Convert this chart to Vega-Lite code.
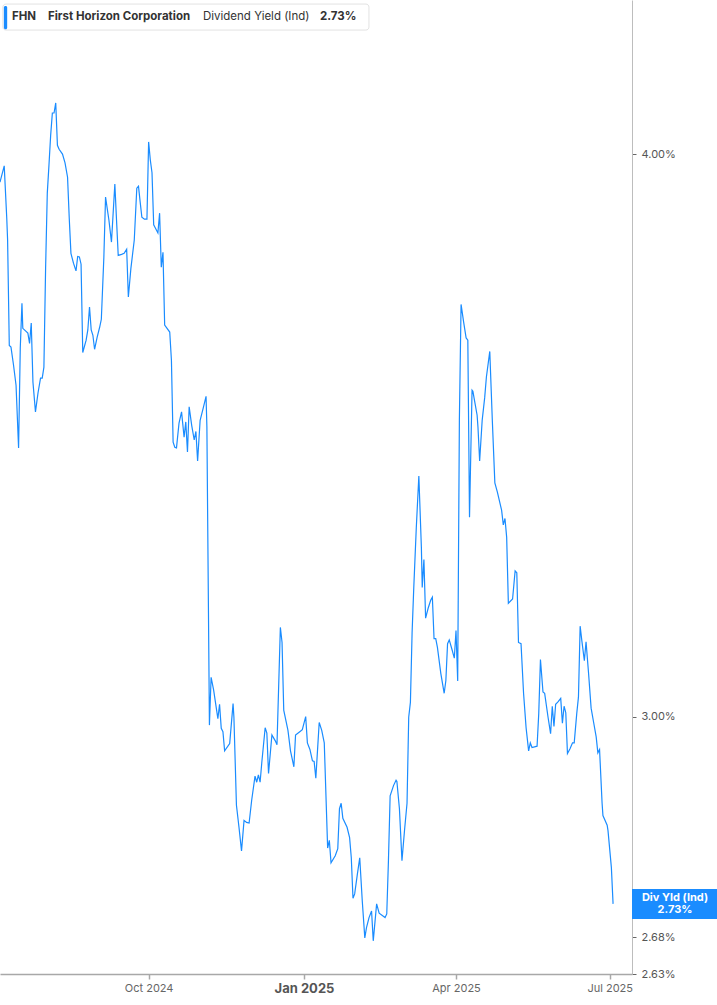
{
  "$schema": "https://vega.github.io/schema/vega-lite/v6.json",
  "width": 632,
  "height": 974,
  "autosize": "none",
  "padding": {"left": 0, "top": 0, "right": 85, "bottom": 31},
  "background": "white",
  "config": {"view": {"stroke": null}, "font": "Inter", "axis": {"grid": false}},
  "data": {
    "values": [
      {"date": "2024-07-05T00:00", "yield": 3.943},
      {"date": "2024-07-07T12:00", "yield": 3.976},
      {"date": "2024-07-09T00:00", "yield": 3.871},
      {"date": "2024-07-09T12:00", "yield": 3.828},
      {"date": "2024-07-10T12:00", "yield": 3.627},
      {"date": "2024-07-11T12:00", "yield": 3.624},
      {"date": "2024-07-13T00:00", "yield": 3.591},
      {"date": "2024-07-14T12:00", "yield": 3.554},
      {"date": "2024-07-16T00:00", "yield": 3.442},
      {"date": "2024-07-17T00:00", "yield": 3.622},
      {"date": "2024-07-18T00:00", "yield": 3.706},
      {"date": "2024-07-18T12:00", "yield": 3.659},
      {"date": "2024-07-21T12:00", "yield": 3.650},
      {"date": "2024-07-22T12:00", "yield": 3.631},
      {"date": "2024-07-23T12:00", "yield": 3.669},
      {"date": "2024-07-24T12:00", "yield": 3.560},
      {"date": "2024-07-26T00:00", "yield": 3.506},
      {"date": "2024-07-27T12:00", "yield": 3.540},
      {"date": "2024-07-29T00:00", "yield": 3.567},
      {"date": "2024-07-30T00:00", "yield": 3.567},
      {"date": "2024-07-31T00:00", "yield": 3.587},
      {"date": "2024-08-01T00:00", "yield": 3.773},
      {"date": "2024-08-02T00:00", "yield": 3.921},
      {"date": "2024-08-03T00:00", "yield": 3.978},
      {"date": "2024-08-04T00:00", "yield": 4.039},
      {"date": "2024-08-05T00:00", "yield": 4.085},
      {"date": "2024-08-06T00:00", "yield": 4.085},
      {"date": "2024-08-07T00:00", "yield": 4.106},
      {"date": "2024-08-08T00:00", "yield": 4.018},
      {"date": "2024-08-09T00:00", "yield": 4.010},
      {"date": "2024-08-11T00:00", "yield": 4.000},
      {"date": "2024-08-12T12:00", "yield": 3.982},
      {"date": "2024-08-14T00:00", "yield": 3.953},
      {"date": "2024-08-15T00:00", "yield": 3.871},
      {"date": "2024-08-16T00:00", "yield": 3.802},
      {"date": "2024-08-17T12:00", "yield": 3.783},
      {"date": "2024-08-19T00:00", "yield": 3.768},
      {"date": "2024-08-20T00:00", "yield": 3.796},
      {"date": "2024-08-21T00:00", "yield": 3.795},
      {"date": "2024-08-22T00:00", "yield": 3.781},
      {"date": "2024-08-23T00:00", "yield": 3.614},
      {"date": "2024-08-25T00:00", "yield": 3.637},
      {"date": "2024-08-26T00:00", "yield": 3.656},
      {"date": "2024-08-27T00:00", "yield": 3.699},
      {"date": "2024-08-28T00:00", "yield": 3.656},
      {"date": "2024-08-29T00:00", "yield": 3.646},
      {"date": "2024-08-30T00:00", "yield": 3.620},
      {"date": "2024-08-31T12:00", "yield": 3.642},
      {"date": "2024-09-02T00:00", "yield": 3.661},
      {"date": "2024-09-03T00:00", "yield": 3.676},
      {"date": "2024-09-04T12:00", "yield": 3.795},
      {"date": "2024-09-05T12:00", "yield": 3.913},
      {"date": "2024-09-07T12:00", "yield": 3.867},
      {"date": "2024-09-09T00:00", "yield": 3.824},
      {"date": "2024-09-11T00:00", "yield": 3.939},
      {"date": "2024-09-12T00:00", "yield": 3.867},
      {"date": "2024-09-13T00:00", "yield": 3.798},
      {"date": "2024-09-15T00:00", "yield": 3.800},
      {"date": "2024-09-16T12:00", "yield": 3.802},
      {"date": "2024-09-18T00:00", "yield": 3.810},
      {"date": "2024-09-19T00:00", "yield": 3.718},
      {"date": "2024-09-20T12:00", "yield": 3.773},
      {"date": "2024-09-22T12:00", "yield": 3.828},
      {"date": "2024-09-24T00:00", "yield": 3.931},
      {"date": "2024-09-25T00:00", "yield": 3.935},
      {"date": "2024-09-26T00:00", "yield": 3.903},
      {"date": "2024-09-27T00:00", "yield": 3.873},
      {"date": "2024-09-28T12:00", "yield": 3.869},
      {"date": "2024-09-30T00:00", "yield": 3.869},
      {"date": "2024-10-01T00:00", "yield": 4.025},
      {"date": "2024-10-02T00:00", "yield": 3.988},
      {"date": "2024-10-03T00:00", "yield": 3.962},
      {"date": "2024-10-04T00:00", "yield": 3.858},
      {"date": "2024-10-06T12:00", "yield": 3.842},
      {"date": "2024-10-07T12:00", "yield": 3.881},
      {"date": "2024-10-08T12:00", "yield": 3.775},
      {"date": "2024-10-09T12:00", "yield": 3.804},
      {"date": "2024-10-10T12:00", "yield": 3.665},
      {"date": "2024-10-13T12:00", "yield": 3.652},
      {"date": "2024-10-14T12:00", "yield": 3.600},
      {"date": "2024-10-15T12:00", "yield": 3.452},
      {"date": "2024-10-16T12:00", "yield": 3.443},
      {"date": "2024-10-17T12:00", "yield": 3.442},
      {"date": "2024-10-19T00:00", "yield": 3.486},
      {"date": "2024-10-20T12:00", "yield": 3.506},
      {"date": "2024-10-22T00:00", "yield": 3.461},
      {"date": "2024-10-23T00:00", "yield": 3.488},
      {"date": "2024-10-24T00:00", "yield": 3.435},
      {"date": "2024-10-25T00:00", "yield": 3.515},
      {"date": "2024-10-26T12:00", "yield": 3.482},
      {"date": "2024-10-28T00:00", "yield": 3.456},
      {"date": "2024-10-29T00:00", "yield": 3.471},
      {"date": "2024-10-30T00:00", "yield": 3.419},
      {"date": "2024-10-31T12:00", "yield": 3.491},
      {"date": "2024-11-02T12:00", "yield": 3.515},
      {"date": "2024-11-04T00:00", "yield": 3.534},
      {"date": "2024-11-04T12:00", "yield": 3.479},
      {"date": "2024-11-06T00:00", "yield": 2.987},
      {"date": "2024-11-07T00:00", "yield": 3.061},
      {"date": "2024-11-08T12:00", "yield": 3.041},
      {"date": "2024-11-11T00:00", "yield": 2.997},
      {"date": "2024-11-12T00:00", "yield": 3.019},
      {"date": "2024-11-13T00:00", "yield": 2.982},
      {"date": "2024-11-14T00:00", "yield": 2.977},
      {"date": "2024-11-15T00:00", "yield": 2.948},
      {"date": "2024-11-18T00:00", "yield": 2.959},
      {"date": "2024-11-20T00:00", "yield": 3.020},
      {"date": "2024-11-20T12:00", "yield": 2.999},
      {"date": "2024-11-22T00:00", "yield": 2.867},
      {"date": "2024-11-23T12:00", "yield": 2.835},
      {"date": "2024-11-25T00:00", "yield": 2.801},
      {"date": "2024-11-26T12:00", "yield": 2.845},
      {"date": "2024-11-28T00:00", "yield": 2.842},
      {"date": "2024-11-29T12:00", "yield": 2.841},
      {"date": "2024-12-01T00:00", "yield": 2.874},
      {"date": "2024-12-03T00:00", "yield": 2.910},
      {"date": "2024-12-04T00:00", "yield": 2.901},
      {"date": "2024-12-05T00:00", "yield": 2.912},
      {"date": "2024-12-06T00:00", "yield": 2.901},
      {"date": "2024-12-07T00:00", "yield": 2.930},
      {"date": "2024-12-09T00:00", "yield": 2.983},
      {"date": "2024-12-10T00:00", "yield": 2.975},
      {"date": "2024-12-11T00:00", "yield": 2.914},
      {"date": "2024-12-13T00:00", "yield": 2.972},
      {"date": "2024-12-15T00:00", "yield": 2.963},
      {"date": "2024-12-16T00:00", "yield": 2.957},
      {"date": "2024-12-18T00:00", "yield": 3.140},
      {"date": "2024-12-19T00:00", "yield": 3.116},
      {"date": "2024-12-20T00:00", "yield": 3.010},
      {"date": "2024-12-22T12:00", "yield": 2.979},
      {"date": "2024-12-24T00:00", "yield": 2.948},
      {"date": "2024-12-26T00:00", "yield": 2.924},
      {"date": "2024-12-27T00:00", "yield": 2.972},
      {"date": "2024-12-29T12:00", "yield": 2.977},
      {"date": "2024-12-31T00:00", "yield": 2.980},
      {"date": "2025-01-02T00:00", "yield": 3.000},
      {"date": "2025-01-03T00:00", "yield": 2.960},
      {"date": "2025-01-04T12:00", "yield": 2.950},
      {"date": "2025-01-06T00:00", "yield": 2.933},
      {"date": "2025-01-07T00:00", "yield": 2.932},
      {"date": "2025-01-08T00:00", "yield": 2.907},
      {"date": "2025-01-10T00:00", "yield": 2.991},
      {"date": "2025-01-11T12:00", "yield": 2.979},
      {"date": "2025-01-13T00:00", "yield": 2.960},
      {"date": "2025-01-15T00:00", "yield": 2.805},
      {"date": "2025-01-16T00:00", "yield": 2.816},
      {"date": "2025-01-17T00:00", "yield": 2.784},
      {"date": "2025-01-19T12:00", "yield": 2.794},
      {"date": "2025-01-21T00:00", "yield": 2.804},
      {"date": "2025-01-22T00:00", "yield": 2.862},
      {"date": "2025-01-23T00:00", "yield": 2.870},
      {"date": "2025-01-24T00:00", "yield": 2.848},
      {"date": "2025-01-26T12:00", "yield": 2.835},
      {"date": "2025-01-28T00:00", "yield": 2.820},
      {"date": "2025-01-29T00:00", "yield": 2.791},
      {"date": "2025-01-30T00:00", "yield": 2.734},
      {"date": "2025-01-31T00:00", "yield": 2.740},
      {"date": "2025-02-01T12:00", "yield": 2.766},
      {"date": "2025-02-03T00:00", "yield": 2.791},
      {"date": "2025-02-04T12:00", "yield": 2.730},
      {"date": "2025-02-06T00:00", "yield": 2.679},
      {"date": "2025-02-07T00:00", "yield": 2.693},
      {"date": "2025-02-08T12:00", "yield": 2.707},
      {"date": "2025-02-10T00:00", "yield": 2.716},
      {"date": "2025-02-11T00:00", "yield": 2.675},
      {"date": "2025-02-13T00:00", "yield": 2.726},
      {"date": "2025-02-14T12:00", "yield": 2.713},
      {"date": "2025-02-18T00:00", "yield": 2.707},
      {"date": "2025-02-19T00:00", "yield": 2.712},
      {"date": "2025-02-20T00:00", "yield": 2.787},
      {"date": "2025-02-21T00:00", "yield": 2.881},
      {"date": "2025-02-23T00:00", "yield": 2.896},
      {"date": "2025-02-24T12:00", "yield": 2.904},
      {"date": "2025-02-25T00:00", "yield": 2.902},
      {"date": "2025-02-26T12:00", "yield": 2.862},
      {"date": "2025-02-28T00:00", "yield": 2.787},
      {"date": "2025-03-01T12:00", "yield": 2.830},
      {"date": "2025-03-03T00:00", "yield": 2.870},
      {"date": "2025-03-04T00:00", "yield": 2.999},
      {"date": "2025-03-05T00:00", "yield": 3.022},
      {"date": "2025-03-06T00:00", "yield": 3.131},
      {"date": "2025-03-07T00:00", "yield": 3.205},
      {"date": "2025-03-08T12:00", "yield": 3.305},
      {"date": "2025-03-10T00:00", "yield": 3.393},
      {"date": "2025-03-11T12:00", "yield": 3.271},
      {"date": "2025-03-12T00:00", "yield": 3.205},
      {"date": "2025-03-13T00:00", "yield": 3.251},
      {"date": "2025-03-14T00:00", "yield": 3.155},
      {"date": "2025-03-15T12:00", "yield": 3.171},
      {"date": "2025-03-17T00:00", "yield": 3.184},
      {"date": "2025-03-18T00:00", "yield": 3.189},
      {"date": "2025-03-19T00:00", "yield": 3.122},
      {"date": "2025-03-20T00:00", "yield": 3.122},
      {"date": "2025-03-21T00:00", "yield": 3.108},
      {"date": "2025-03-23T00:00", "yield": 3.067},
      {"date": "2025-03-25T00:00", "yield": 3.036},
      {"date": "2025-03-26T00:00", "yield": 3.056},
      {"date": "2025-03-27T00:00", "yield": 3.114},
      {"date": "2025-03-28T00:00", "yield": 3.120},
      {"date": "2025-03-29T12:00", "yield": 3.106},
      {"date": "2025-03-31T00:00", "yield": 3.091},
      {"date": "2025-04-01T00:00", "yield": 3.135},
      {"date": "2025-04-02T00:00", "yield": 3.055},
      {"date": "2025-04-03T00:00", "yield": 3.491},
      {"date": "2025-04-04T00:00", "yield": 3.704},
      {"date": "2025-04-05T12:00", "yield": 3.671},
      {"date": "2025-04-07T00:00", "yield": 3.641},
      {"date": "2025-04-08T00:00", "yield": 3.637},
      {"date": "2025-04-09T00:00", "yield": 3.322},
      {"date": "2025-04-10T12:00", "yield": 3.545},
      {"date": "2025-04-11T00:00", "yield": 3.543},
      {"date": "2025-04-13T12:00", "yield": 3.500},
      {"date": "2025-04-14T00:00", "yield": 3.479},
      {"date": "2025-04-15T00:00", "yield": 3.419},
      {"date": "2025-04-16T12:00", "yield": 3.491},
      {"date": "2025-04-18T00:00", "yield": 3.532},
      {"date": "2025-04-19T00:00", "yield": 3.569},
      {"date": "2025-04-21T00:00", "yield": 3.616},
      {"date": "2025-04-22T12:00", "yield": 3.491},
      {"date": "2025-04-24T00:00", "yield": 3.381},
      {"date": "2025-04-25T12:00", "yield": 3.365},
      {"date": "2025-04-28T00:00", "yield": 3.334},
      {"date": "2025-04-29T00:00", "yield": 3.309},
      {"date": "2025-04-30T00:00", "yield": 3.320},
      {"date": "2025-05-01T00:00", "yield": 3.288},
      {"date": "2025-05-02T00:00", "yield": 3.179},
      {"date": "2025-05-04T12:00", "yield": 3.186},
      {"date": "2025-05-06T00:00", "yield": 3.232},
      {"date": "2025-05-07T00:00", "yield": 3.229},
      {"date": "2025-05-08T00:00", "yield": 3.116},
      {"date": "2025-05-09T12:00", "yield": 3.114},
      {"date": "2025-05-11T00:00", "yield": 3.036},
      {"date": "2025-05-12T12:00", "yield": 2.983},
      {"date": "2025-05-14T00:00", "yield": 2.948},
      {"date": "2025-05-15T00:00", "yield": 2.960},
      {"date": "2025-05-16T00:00", "yield": 2.953},
      {"date": "2025-05-19T00:00", "yield": 2.955},
      {"date": "2025-05-20T00:00", "yield": 3.005},
      {"date": "2025-05-21T00:00", "yield": 3.089},
      {"date": "2025-05-22T12:00", "yield": 3.038},
      {"date": "2025-05-23T12:00", "yield": 3.036},
      {"date": "2025-05-25T12:00", "yield": 2.999},
      {"date": "2025-05-27T00:00", "yield": 2.974},
      {"date": "2025-05-28T00:00", "yield": 3.016},
      {"date": "2025-05-29T00:00", "yield": 2.985},
      {"date": "2025-05-30T00:00", "yield": 3.019},
      {"date": "2025-05-31T12:00", "yield": 3.023},
      {"date": "2025-06-02T00:00", "yield": 3.028},
      {"date": "2025-06-03T00:00", "yield": 2.990},
      {"date": "2025-06-04T00:00", "yield": 3.016},
      {"date": "2025-06-05T00:00", "yield": 3.006},
      {"date": "2025-06-06T00:00", "yield": 2.944},
      {"date": "2025-06-07T12:00", "yield": 2.951},
      {"date": "2025-06-09T00:00", "yield": 2.960},
      {"date": "2025-06-10T00:00", "yield": 2.960},
      {"date": "2025-06-11T12:00", "yield": 3.005},
      {"date": "2025-06-12T12:00", "yield": 3.030},
      {"date": "2025-06-13T12:00", "yield": 3.142},
      {"date": "2025-06-14T12:00", "yield": 3.119},
      {"date": "2025-06-16T00:00", "yield": 3.087},
      {"date": "2025-06-17T00:00", "yield": 3.117},
      {"date": "2025-06-18T12:00", "yield": 3.067},
      {"date": "2025-06-20T00:00", "yield": 3.013},
      {"date": "2025-06-21T12:00", "yield": 2.991},
      {"date": "2025-06-23T00:00", "yield": 2.969},
      {"date": "2025-06-24T00:00", "yield": 2.945},
      {"date": "2025-06-25T00:00", "yield": 2.950},
      {"date": "2025-06-26T12:00", "yield": 2.870},
      {"date": "2025-06-27T00:00", "yield": 2.852},
      {"date": "2025-06-29T12:00", "yield": 2.838},
      {"date": "2025-06-30T00:00", "yield": 2.830},
      {"date": "2025-07-02T00:00", "yield": 2.777},
      {"date": "2025-07-03T00:00", "yield": 2.726}
    ]
  },
  "layer": [
    {
      "mark": {"type": "line", "color": "#1a8cff", "strokeWidth": 1.2},
      "encoding": {
        "x": {
          "field": "date",
          "type": "temporal",
          "scale": {
            "domain": [
              {"year": 2024, "month": 7, "date": 5},
              {"year": 2025, "month": 7, "date": 14, "hours": 5}
            ],
            "nice": false
          },
          "axis": {
            "title": null,
            "values": [
              {"year": 2024, "month": 10, "date": 1},
              {"year": 2025, "month": 1, "date": 1},
              {"year": 2025, "month": 4, "date": 1},
              {"year": 2025, "month": 7, "date": 1}
            ],
            "format": "%b %Y",
            "domainColor": "#a8a8a8",
            "domainWidth": 1.5,
            "tickColor": "#a8a8a8",
            "tickWidth": 1.5,
            "tickSize": 5,
            "labelPadding": 3,
            "labelColor": {"condition": {"test": "month(datum.value) == 0", "value": "#555555"}, "value": "#666666"},
            "labelFontSize": {"condition": {"test": "month(datum.value) == 0", "value": 13}, "value": 11},
            "labelFontWeight": {"condition": {"test": "month(datum.value) == 0", "value": "bold"}, "value": "normal"}
          }
        },
        "y": {
          "field": "yield",
          "type": "quantitative",
          "scale": {"type": "log", "domain": [2.63, 4.328], "nice": false, "zero": false},
          "axis": {
            "title": null,
            "orient": "right",
            "values": [2.63, 2.68, 3, 4],
            "labelExpr": "format(datum.value, '.2f') + '%'",
            "domainColor": "#bdbdbd",
            "tickColor": "#666666",
            "tickSize": 4,
            "labelPadding": 5,
            "labelColor": "#555555",
            "labelFontSize": 11,
            "labelOverlap": false,
            "labelBound": false
          }
        }
      }
    },
    {
      "data": {"values": [{}]},
      "mark": {"type": "rect", "fill": "white", "stroke": "#e2e2e2", "strokeWidth": 1, "cornerRadius": 3},
      "encoding": {
        "x": {"datum": {"year": 2024, "month": 7, "date": 6, "hours": 17}, "type": "temporal"},
        "x2": {"datum": {"year": 2025, "month": 2, "date": 8, "hours": 11}},
        "y": {"datum": 4.319, "type": "quantitative"},
        "y2": {"datum": 4.262}
      }
    },
    {
      "data": {"values": [{}]},
      "mark": {"type": "rect", "fill": "#1a8cff", "cornerRadius": 1.5},
      "encoding": {
        "x": {"datum": {"year": 2024, "month": 7, "date": 7, "hours": 7}, "type": "temporal"},
        "x2": {"datum": {"year": 2024, "month": 7, "date": 9, "hours": 6}},
        "y": {"datum": 4.315, "type": "quantitative"},
        "y2": {"datum": 4.264}
      }
    },
    {
      "data": {"values": [{"label": "FHN", "offset": 12}]},
      "mark": {"type": "text", "align": "left", "baseline": "middle", "dx": 12, "fontSize": 11.5, "fontWeight": "bold", "color": "#333333"},
      "encoding": {
        "x": {"datum": {"year": 2024, "month": 7, "date": 5}, "type": "temporal"},
        "y": {"datum": 4.291, "type": "quantitative"},
        "text": {"field": "label"}
      }
    },
    {
      "data": {"values": [{"label": "First Horizon Corporation"}]},
      "mark": {"type": "text", "align": "left", "baseline": "middle", "dx": 48, "fontSize": 11.5, "fontWeight": "bold", "color": "#333333"},
      "encoding": {
        "x": {"datum": {"year": 2024, "month": 7, "date": 5}, "type": "temporal"},
        "y": {"datum": 4.291, "type": "quantitative"},
        "text": {"field": "label"}
      }
    },
    {
      "data": {"values": [{"label": "Dividend Yield (Ind)"}]},
      "mark": {"type": "text", "align": "left", "baseline": "middle", "dx": 203, "fontSize": 11.5, "fontWeight": "normal", "color": "#333333"},
      "encoding": {
        "x": {"datum": {"year": 2024, "month": 7, "date": 5}, "type": "temporal"},
        "y": {"datum": 4.291, "type": "quantitative"},
        "text": {"field": "label"}
      }
    },
    {
      "data": {"values": [{"label": "2.73%"}]},
      "mark": {"type": "text", "align": "left", "baseline": "middle", "dx": 320, "fontSize": 11.5, "fontWeight": "bold", "color": "#333333"},
      "encoding": {
        "x": {"datum": {"year": 2024, "month": 7, "date": 5}, "type": "temporal"},
        "y": {"datum": 4.291, "type": "quantitative"},
        "text": {"field": "label"}
      }
    },
    {
      "data": {"values": [{}]},
      "mark": {"type": "rect", "fill": "#1a8cff"},
      "encoding": {
        "x": {"datum": {"year": 2025, "month": 7, "date": 14, "hours": 5}, "type": "temporal"},
        "x2": {"datum": {"year": 2025, "month": 9, "date": 2, "hours": 14}},
        "y": {"datum": 2.747, "type": "quantitative"},
        "y2": {"datum": 2.705}
      }
    },
    {
      "data": {"values": [{"label": "Div Yld (Ind)"}]},
      "mark": {"type": "text", "align": "center", "baseline": "middle", "dx": 43, "dy": -6, "fontSize": 11, "fontWeight": "bold", "color": "white"},
      "encoding": {
        "x": {"datum": {"year": 2025, "month": 7, "date": 14, "hours": 5}, "type": "temporal"},
        "y": {"datum": 2.726, "type": "quantitative"},
        "text": {"field": "label"}
      }
    },
    {
      "data": {"values": [{"label": "2.73%"}]},
      "mark": {"type": "text", "align": "center", "baseline": "middle", "dx": 43, "dy": 6, "fontSize": 11, "fontWeight": "bold", "color": "white"},
      "encoding": {
        "x": {"datum": {"year": 2025, "month": 7, "date": 14, "hours": 5}, "type": "temporal"},
        "y": {"datum": 2.726, "type": "quantitative"},
        "text": {"field": "label"}
      }
    }
  ]
}
